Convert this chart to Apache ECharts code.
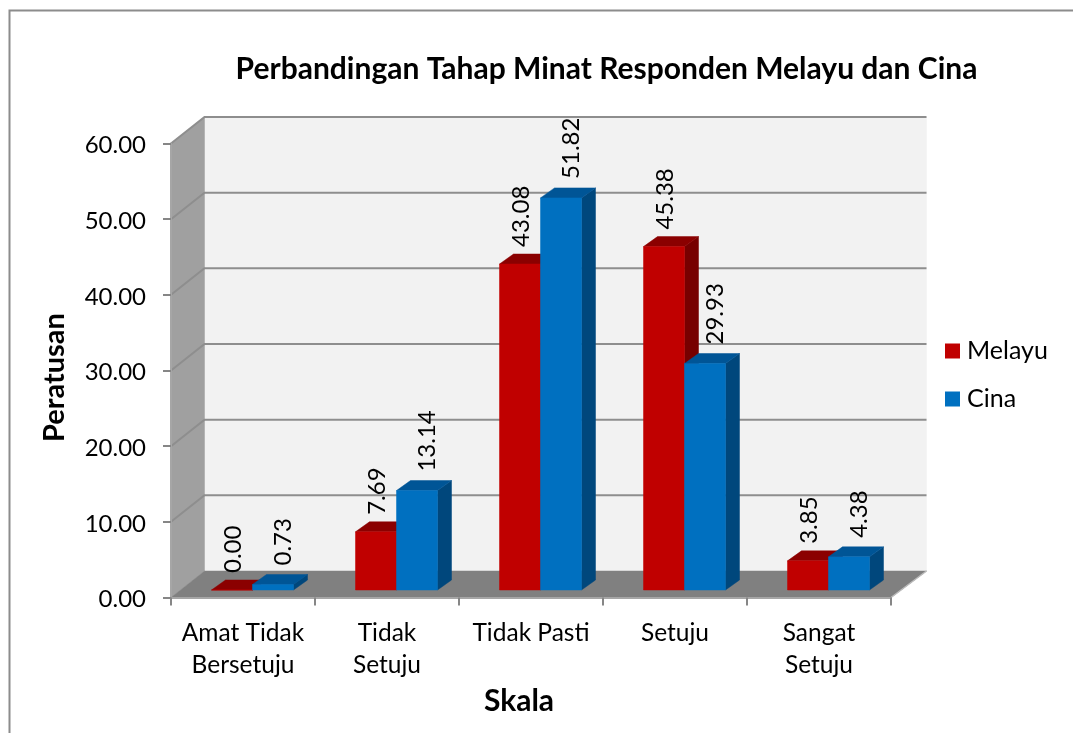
<!DOCTYPE html>
<html><head><meta charset="utf-8">
<style>html,body{margin:0;padding:0;background:#fff}#c{width:1073px;height:733px}</style>
<script src="https://cdn.jsdelivr.net/npm/echarts@6/dist/echarts.min.js"></script>
</head><body><div id="c"></div>
<script>
const categories = ['Amat Tidak\nBersetuju', 'Tidak\nSetuju', 'Tidak Pasti', 'Setuju', 'Sangat\nSetuju'];
const melayu = [0.00, 7.69, 43.08, 45.38, 3.85];
const cina = [0.73, 13.14, 51.82, 29.93, 4.38];
const yTicks = [0, 10, 20, 30, 40, 50, 60];
const FONT = 'Lato';
const DEPTH = [33.5, -26.5];           // projection of the floor depth
const WALL_EXTRA = 2;                  // back wall reaches slightly past the projected corner
const BAR_DEPTH = [14, -10];           // projection of a bar's depth
const BAR_INSET = [9.5, -7.5];         // bar front face offset from axis plane
const BAR_W = 41;

function poly(points, fill, z2) {
  return {type: 'polygon', shape: {points}, style: {fill, stroke: fill, lineWidth: 0.5}, z2: z2 || 0};
}
function barSeries(name, values, side, colors, labelDx, labelDy) {
  return {
    type: 'custom', name, z: 4, clip: false, silent: true,
    itemStyle: {color: colors[0]},
    encode: {x: 0, y: 1},
    data: values.map((v, i) => [i, v]),
    renderItem(params, api) {
      const top = api.coord([api.value(0), api.value(1)]);
      const base = api.coord([api.value(0), 0]);
      const l = top[0] + BAR_INSET[0] + (side < 0 ? -BAR_W : 0);
      const r = l + BAR_W;
      const t = top[1] + BAR_INSET[1];
      const b = base[1] + BAR_INSET[1];
      const dx = BAR_DEPTH[0], dy = BAR_DEPTH[1];
      const children = [
        poly([[r, t], [r + dx, t + dy], [r + dx, b + dy], [r, b]], colors[2]),
        poly([[l, t], [l + dx, t + dy], [r + dx, t + dy], [r, t]], colors[1]),
        poly([[l, t], [r, t], [r, b], [l, b]], colors[0]),
        {
          type: 'text', z2: 50,
          x: (l + r) / 2 + labelDx, y: t - labelDy, rotation: Math.PI / 2,
          style: {text: api.value(1).toFixed(2), fill: '#000', font: '24px ' + FONT, align: 'left', verticalAlign: 'middle'}
        }
      ];
      return {type: 'group', children};
    }
  };
}
const option = {
  animation: false,
  backgroundColor: '#fff',
  textStyle: {fontFamily: FONT},
  title: {
    text: 'Perbandingan Tahap Minat Responden Melayu dan Cina',
    left: 606.5, top: 54, padding: 0, textAlign: 'center',
    textStyle: {fontFamily: FONT, fontSize: 30, fontWeight: 'bold', color: '#000'}
  },
  legend: {
    orient: 'vertical', left: 945, top: 338.5, padding: 0, itemWidth: 15, itemHeight: 15, itemGap: 23,
    icon: 'rect', data: ['Melayu', 'Cina'],
    textStyle: {fontFamily: FONT, fontSize: 25, color: '#000', padding: [0, 0, 0, 2]}, itemStyle: {borderWidth: 0}
  },
  grid: {left: 171, right: 182, top: 143.5, bottom: 135.5, containLabel: false},
  xAxis: {
    type: 'category', data: categories, z: 5,
    name: 'Skala', nameLocation: 'middle', nameGap: 81,
    nameTextStyle: {fontFamily: FONT, fontSize: 30, fontWeight: 'bold', color: '#000', padding: [0, 24, 0, 0]},
    axisLine: {lineStyle: {color: '#a6a6a6', width: 2}},
    axisTick: {show: true, length: 8, alignWithLabel: false, lineStyle: {color: '#868686', width: 2}},
    axisLabel: {fontFamily: FONT, fontSize: 24.5, color: '#000', lineHeight: 32, margin: 19.5, interval: 0},
    splitLine: {show: false}
  },
  yAxis: {
    type: 'value', min: 0, max: 60, interval: 10, z: 5,
    name: 'Peratusan', nameLocation: 'middle', nameGap: 102,
    nameTextStyle: {fontFamily: FONT, fontSize: 29, fontWeight: 'bold', color: '#000', padding: [0, 14, 0, 0]},
    axisLine: {show: true, lineStyle: {color: '#a6a6a6', width: 2}},
    axisTick: {show: true, length: 8, lineStyle: {color: '#868686', width: 2}},
    axisLabel: {
      fontFamily: FONT, fontSize: 24, color: '#000', margin: 25,
      formatter: v => '{n|' + v.toFixed(2) + '}',
      rich: {n: {fontFamily: FONT, fontSize: 24, color: '#000', padding: [4, 0, 0, 0]}}
    },
    splitLine: {show: false}
  },
  graphic: [
    {type: 'polyline', silent: true, shape: {points: [[9.5, 733], [9.5, 10.5], [1073, 10.5]]}, style: {fill: null, stroke: '#8c8c8c', lineWidth: 2}}
  ],
  series: [
    {
      type: 'custom', name: 'walls', z: 1, clip: false, silent: true,
      data: [[0, 0]], encode: {x: 0, y: 1},
      renderItem(params, api) {
        const cs = params.coordSys;
        const x0 = cs.x, x1 = cs.x + cs.width, y0 = cs.y, y1 = cs.y + cs.height;
        const dx = DEPTH[0], dy = DEPTH[1], e = WALL_EXTRA;
        return {type: 'group', children: [
          poly([[x0 + dx, y0 + dy], [x1 + dx + e, y0 + dy], [x1 + dx + e, y1 + dy], [x0 + dx, y1 + dy]], '#f2f2f2'),
          poly([[x0, y0], [x0 + dx, y0 + dy], [x0 + dx, y1 + dy], [x0, y1]], '#a0a0a0'),
          poly([[x0, y1], [x0 + dx, y1 + dy], [x1 + dx + e, y1 + dy], [x1, y1]], '#808080')
        ]};
      }
    },
    {
      type: 'custom', name: 'gridlines', z: 2, clip: false, silent: true,
      data: yTicks.map(v => [0, v]), encode: {x: 0, y: 1},
      renderItem(params, api) {
        const cs = params.coordSys;
        const y = api.coord([0, api.value(1)])[1];
        const x0 = cs.x, x1 = cs.x + cs.width;
        const dx = DEPTH[0], dy = DEPTH[1], e = WALL_EXTRA;
        if (api.value(1) === 0) {
          return {type: 'polyline', shape: {points: [[x1 + dx + e, y + dy], [x1, y]]}, style: {fill: null, stroke: '#bbbbbb', lineWidth: 1.5}};
        }
        return {type: 'polyline', shape: {points: [[x0, y], [x0 + dx, y + dy], [x1 + dx + e, y + dy]]},
          style: {fill: null, stroke: '#8e8e8e', lineWidth: 2}};
      }
    },
    barSeries('Melayu', melayu, -1, ['#c00000', '#8b0000', '#770000'], 1, 17),
    barSeries('Cina', cina, 1, ['#0070c0', '#005596', '#00477c'], 10, 19)
  ]
};
const chart = echarts.init(document.getElementById('c'), null, {renderer: 'canvas'});
chart.setOption(option);
</script></body></html>
